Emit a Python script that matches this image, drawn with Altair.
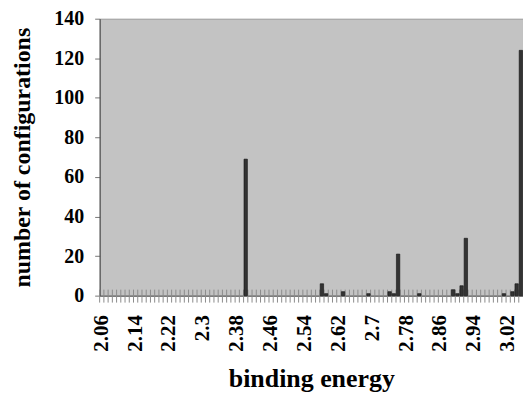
import altair as alt
import pandas as pd

# category bins (histogram bins every 0.01)
bin_starts = [round(2.06 + 0.01 * i, 2) for i in range(100)]
categories = [format(b, "g") for b in bin_starts]

# non-zero bins
peak_bins = ["2.4", "2.58", "2.59", "2.63", "2.69", "2.74", "2.75", "2.76", "2.81",
             "2.89", "2.9", "2.91", "2.92", "3.01", "3.03", "3.04", "3.05"]
peak_counts = [69, 6, 1, 2, 1, 2, 1, 21, 1, 3, 1, 5, 29, 1, 2, 6, 124]

tick_labels = ["2.06", "2.14", "2.22", "2.3", "2.38", "2.46", "2.54", "2.62",
               "2.7", "2.78", "2.86", "2.94", "3.02"]
y_ticks = [0, 20, 40, 60, 80, 100, 120, 140]

W, H = 425, 278
FONT = "Liberation Serif"

bars_df = pd.DataFrame({"bin": peak_bins, "count": peak_counts})
ticks_df = pd.DataFrame({"bin": categories})

xscale = alt.Scale(domain=categories, paddingInner=0, paddingOuter=0)

bars = alt.Chart(bars_df).mark_bar(
    width=alt.RelativeBandSize(band=0.8), color="#333333", stroke="#111111", strokeWidth=0.6
).encode(
    x=alt.X("bin:N", scale=xscale, sort=categories,
            axis=alt.Axis(values=tick_labels, ticks=False, labelAngle=-90,
                          labelFont=FONT, labelFontSize=21, labelFontWeight="bold",
                          labelColor="black", labelPadding=19, domainColor="#555555",
                          title="binding energy", titleFont=FONT, titleFontSize=26,
                          titleFontWeight="bold", titleColor="black", titlePadding=14)),
    y=alt.Y("count:Q", scale=alt.Scale(domain=[0, 140], nice=False),
            axis=alt.Axis(values=y_ticks, grid=False, tickSize=5, tickColor="#777777",
                          domainColor="#444444", labelFont=FONT, labelFontSize=20,
                          labelFontWeight="bold", labelColor="black", labelPadding=11,
                          title="number of configurations", titleFont=FONT,
                          titleFontSize=24, titleFontWeight="bold", titleColor="black",
                          titlePadding=19)),
)

ticks = alt.Chart(ticks_df).mark_rule(color="#8c8c8c", strokeWidth=1).encode(
    x=alt.X("bin:N", scale=xscale, sort=categories, bandPosition=0),
    y=alt.value(H - 6),
    y2=alt.value(H + 7),
)

chart = alt.layer(ticks, bars).properties(
    width=W, height=H,
    autosize=alt.AutoSizeParams(type="none"),
    padding={"left": 92, "top": 10, "right": 0, "bottom": 96},
    background="white",
).configure_view(fill="#c3c3c3", stroke="#9a9a9a")

chart.save("out.html", embed_options={"renderer": "svg", "actions": False})
